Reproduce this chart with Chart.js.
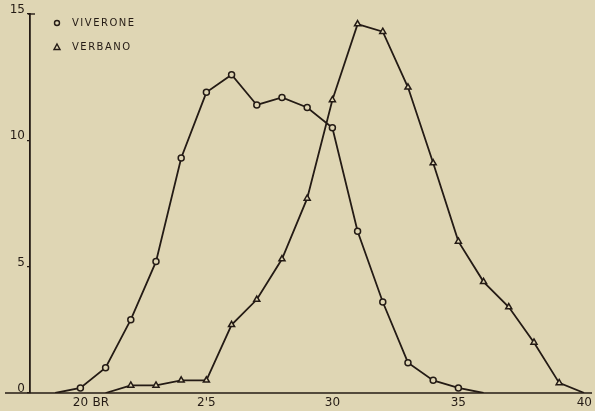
<!DOCTYPE html>
<html>
<head>
<meta charset="utf-8">
<script src="https://cdn.jsdelivr.net/npm/chart.js@4/dist/chart.umd.min.js"></script>
<style>
  html, body { margin: 0; padding: 0; background: #dfd6b4; }
  #wrap { width: 595px; height: 411px; }
</style>
</head>
<body>
<div id="wrap"><canvas id="c" width="595" height="411"></canvas></div>
<script>
// Category values (x axis, "BR" counts)
const lengths = [19,20,21,22,23,24,25,26,27,28,29,30,31,32,33,34,35,36,37,38,39,40];
// Series values (percent)
const viverone = [0,0.2,1.0,2.9,5.2,9.3,11.9,12.6,11.4,11.7,11.3,10.5,6.4,3.6,1.2,0.5,0.2,0,null,null,null,null];
const verbano  = [null,null,0,0.3,0.3,0.5,0.5,2.7,3.7,5.3,7.7,11.6,14.6,14.3,12.1,9.1,6.0,4.4,3.4,2.0,0.4,0];
// Tick labels
const xTickLabels = {20:'20', 25:"2'5", 30:'30', 35:'35', 40:'40'};
const yTicks = [0,5,10,15];
const seriesNames = ['VIVERONE','VERBANO'];

const INK = '#241b15';
const BG = '#dfd6b4';
const FONT = '"DejaVu Sans", "Liberation Sans", Arial, sans-serif';

const toPoints = arr => lengths.map((x,i) => ({x, y: arr[i]}));

const bgPlugin = {
  id: 'bg',
  beforeDraw(chart) {
    const ctx = chart.ctx;
    ctx.save();
    ctx.fillStyle = BG;
    ctx.fillRect(0,0,chart.width,chart.height);
    ctx.restore();
  }
};

const extrasPlugin = {
  id: 'extras',
  afterDraw(chart) {
    const ctx = chart.ctx;
    const xs = chart.scales.x, ys = chart.scales.y;
    const y0 = ys.getPixelForValue(0);
    ctx.save();
    // extended x axis line
    ctx.strokeStyle = INK;
    ctx.lineWidth = 1.6;
    ctx.beginPath();
    ctx.moveTo(5, y0);
    ctx.lineTo(chart.width - 3, y0);
    ctx.stroke();
    // small cross tick at top of y axis
    const x0 = chart.chartArea.left;
    const yTop = ys.getPixelForValue(15);
    ctx.lineWidth = 1.4;
    ctx.beginPath();
    ctx.moveTo(x0 - 2, yTop);
    ctx.lineTo(x0 + 5, yTop);
    ctx.stroke();
    // "BR" unit after 20
    ctx.fillStyle = INK;
    ctx.font = '12px ' + FONT;
    ctx.textBaseline = 'middle';
    ctx.textAlign = 'left';
    ctx.fillText('BR', xs.getPixelForValue(20) + 12, y0 + 10);
    // legend
    const lx = chart.chartArea.left + 27;
    ctx.font = '10px ' + FONT;
    ctx.letterSpacing = '1.5px';
    const rows = [{y: 23, style: 'circle'}, {y: 47, style: 'triangle'}];
    rows.forEach((r, i) => {
      ctx.lineWidth = 1.4;
      ctx.strokeStyle = INK;
      ctx.fillStyle = BG;
      ctx.beginPath();
      if (r.style === 'circle') {
        ctx.arc(lx, r.y, 2.5, 0, Math.PI*2);
      } else {
        ctx.moveTo(lx, r.y - 3);
        ctx.lineTo(lx + 3, r.y + 2.5);
        ctx.lineTo(lx - 3, r.y + 2.5);
        ctx.closePath();
      }
      ctx.fill();
      ctx.stroke();
      ctx.fillStyle = INK;
      ctx.fillText(seriesNames[i], lx + 15, r.y);
    });
    ctx.restore();
  }
};

new Chart(document.getElementById('c'), {
  type: 'line',
  data: {
    datasets: [
      {
        label: seriesNames[0],
        data: toPoints(viverone),
        borderColor: INK,
        borderWidth: 1.8,
        pointStyle: 'circle',
        pointRadius: c => (c.raw && c.raw.y === 0) ? 0 : 3,
        pointBackgroundColor: BG,
        pointBorderColor: INK,
        pointBorderWidth: 1.5,
        tension: 0,
        spanGaps: false
      },
      {
        label: seriesNames[1],
        data: toPoints(verbano),
        borderColor: INK,
        borderWidth: 1.8,
        pointStyle: 'triangle',
        pointRadius: c => (c.raw && c.raw.y === 0) ? 0 : 3.5,
        pointBackgroundColor: BG,
        pointBorderColor: INK,
        pointBorderWidth: 1.5,
        tension: 0,
        spanGaps: false
      }
    ]
  },
  options: {
    responsive: false,
    animation: false,
    devicePixelRatio: 1,
    layout: { padding: { top: 14, right: 10, left: 0, bottom: 0 } },
    plugins: { legend: { display: false }, tooltip: { enabled: false } },
    scales: {
      x: {
        type: 'linear',
        min: 18, max: 40,
        afterFit: s => { s.height = 18; },
        grid: { display: false, drawOnChartArea: false, drawTicks: false, tickLength: 0 },
        border: { display: false },
        ticks: {
          autoSkip: false,
          maxRotation: 0,
          color: INK,
          padding: 3,
          font: { family: FONT, size: 12 },
          callback: v => xTickLabels[v] !== undefined ? xTickLabels[v] : null
        },
        afterBuildTicks: s => { s.ticks = Object.keys(xTickLabels).map(k => ({value: +k})); }
      },
      y: {
        min: 0, max: 15,
        afterFit: s => { s.width = 30; },
        afterBuildTicks: s => { s.ticks = yTicks.map(v => ({value: v})); },
        grid: { display: true, drawOnChartArea: false, drawTicks: true, tickLength: 3, color: INK, lineWidth: 1.2 },
        border: { display: true, color: INK, width: 1.8 },
        ticks: {
          color: INK,
          padding: 2,
          labelOffset: -4,
          font: { family: FONT, size: 12 }
        }
      }
    }
  },
  plugins: [bgPlugin, extrasPlugin]
});
</script>
</body>
</html>
